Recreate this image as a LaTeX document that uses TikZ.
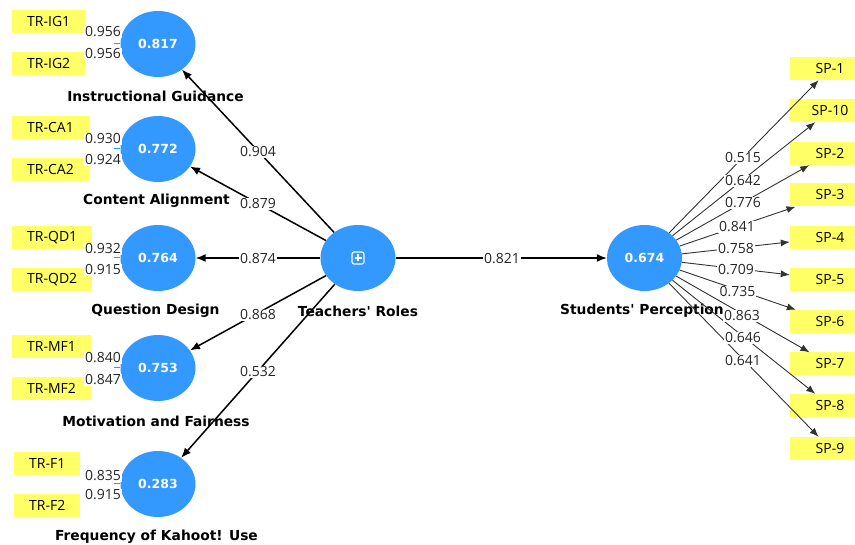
\documentclass[tikz,border=0pt]{standalone}
\usepackage{fontspec}
\setmainfont{Open Sans}
\newfontfamily\namefont{DejaVu Sans}
\usetikzlibrary{shapes.geometric,arrows.meta}
\definecolor{lvblue}{HTML}{3399FF}
\definecolor{indyel}{HTML}{FFFF66}
\begin{document}
\begin{tikzpicture}[x=1pt,y=-1pt,
 lv/.style={ellipse,fill=lvblue,minimum width=75pt,minimum height=66pt,inner sep=0pt,text=white,font=\namefont\bfseries\fontsize{12.5}{15}\selectfont},
 ind/.style={rectangle,fill=indyel,minimum height=23pt,inner xsep=15pt,inner ysep=0pt,font=\fontsize{14}{16}\selectfont},
 spind/.style={ind,minimum width=80pt},
 lvname/.style={font=\namefont\bfseries\fontsize{13.8}{16}\selectfont},
 coef/.style={fill=white,inner sep=1pt,font=\fontsize{14}{16}\selectfont,text=black!85},
 pathc/.style={line width=1.5pt,-{Latex[length=10pt,width=8pt]}},
 loadc/.style={line width=0.9pt,draw=black!80,-{Latex[length=9pt,width=7pt]}},
 tickc/.style={draw=lvblue,line width=1pt}
]
\useasboundingbox[fill=white] (0,0) rectangle (855,545);

% left indicators
\node[ind,anchor=west] (ig1) at (12,21.5) {TR-IG1};
\node[ind,anchor=west] (ig2) at (12,63.5) {TR-IG2};
\node[ind,anchor=west] (ca1) at (12,127.5) {TR-CA1};
\node[ind,anchor=west] (ca2) at (12,169.5) {TR-CA2};
\node[ind,anchor=west] (qd1) at (12,237.5) {TR-QD1};
\node[ind,anchor=west] (qd2) at (12,279.5) {TR-QD2};
\node[ind,anchor=west] (mf1) at (12,346.5) {TR-MF1};
\node[ind,anchor=west] (mf2) at (12,388.5) {TR-MF2};
\node[ind,anchor=west] (f1) at (14,463.5) {TR-F1};
\node[ind,anchor=west] (f2) at (14,505.5) {TR-F2};

% right indicators
\node[spind] (s1) at (830,68.5) {SP-1};
\node[spind] (s10) at (830,110.5) {SP-10};
\node[spind] (s2) at (830,153.5) {SP-2};
\node[spind] (s3) at (830,195) {SP-3};
\node[spind] (s4) at (830,237.5) {SP-4};
\node[spind] (s5) at (830,279.5) {SP-5};
\node[spind] (s6) at (830,321.5) {SP-6};
\node[spind] (s7) at (830,364) {SP-7};
\node[spind] (s8) at (830,405.5) {SP-8};
\node[spind] (s9) at (830,448.5) {SP-9};

% latent variables
\node[lv] (ig) at (158,44) {0.817};
\node[lv] (ca) at (158,149) {0.772};
\node[lv] (qd) at (158,258) {0.764};
\node[lv] (mf) at (158,368) {0.753};
\node[lv] (fk) at (158,484) {0.283};
\node[lv] (tr) at (358,258) {};
\node[lv] (sp) at (644.5,258) {0.674};

% icon in Teachers' Roles
\draw[white,line width=1.1pt,rounded corners=2pt] (352,252) rectangle (364,264);
\draw[white,line width=1.1pt] (354.5,258) -- (361.5,258) (358,254.5) -- (358,261.5);

% names
\node[lvname] (nig) at (155.5,96) {Instructional Guidance};
\node[lvname] (nca) at (156.5,201) {Content Alignment};
\node[lvname] (nqd) at (155.5,311) {Question Design};
\node[lvname] (nmf) at (156,421) {Motivation and Fairness};
\node[lvname] (nfk) at (156.5,537) {Frequency of Kahoot! Use};
\node[lvname] (ntr) at (358,311) {Teachers\char"0027{} Roles};
\node[lvname] (nsp) at (642,311) {Students\char"0027{} Perception};

% ticks
\foreach \n in {ig,ca,qd,mf,fk}{\draw[tickc] (\n.west) -- ++(-6,0);}

% structural paths
\draw[pathc] (tr) -- (ig);
\draw[pathc] (tr) -- (ca);
\draw[pathc] (tr) -- (qd);
\draw[pathc] (tr) -- (mf);
\draw[pathc] (tr) -- (fk);
\draw[pathc] (tr) -- (sp);

% outer loadings
\foreach \s in {s1,s10,s2,s3,s4,s5,s6,s7,s8,s9}{\draw[loadc] (sp) -- (\s);}

% coefficients
\node[coef] at (258,152) {0.904};
\node[coef] at (258,204) {0.879};
\node[coef] at (258,259) {0.874};
\node[coef] at (258,315) {0.868};
\node[coef] at (258,372) {0.532};
\node[coef] at (502,259) {0.821};

\node[coef] at (743,158) {0.515};
\node[coef] at (743,181) {0.642};
\node[coef] at (743,203) {0.776};
\node[coef] at (737,227) {0.841};
\node[coef] at (736,249) {0.758};
\node[coef] at (736,270) {0.709};
\node[coef] at (737.5,292) {0.735};
\node[coef] at (742,316) {0.863};
\node[coef] at (743,338) {0.646};
\node[coef] at (743,361) {0.641};

\node[coef] at (103,32) {0.956};
\node[coef] at (103,54) {0.956};
\node[coef] at (103,139) {0.930};
\node[coef] at (103,160) {0.924};
\node[coef] at (103,249) {0.932};
\node[coef] at (103,270) {0.915};
\node[coef] at (103,358) {0.840};
\node[coef] at (103,380) {0.847};
\node[coef] at (103,476) {0.835};
\node[coef] at (103,495) {0.915};
\end{tikzpicture}
\end{document}
